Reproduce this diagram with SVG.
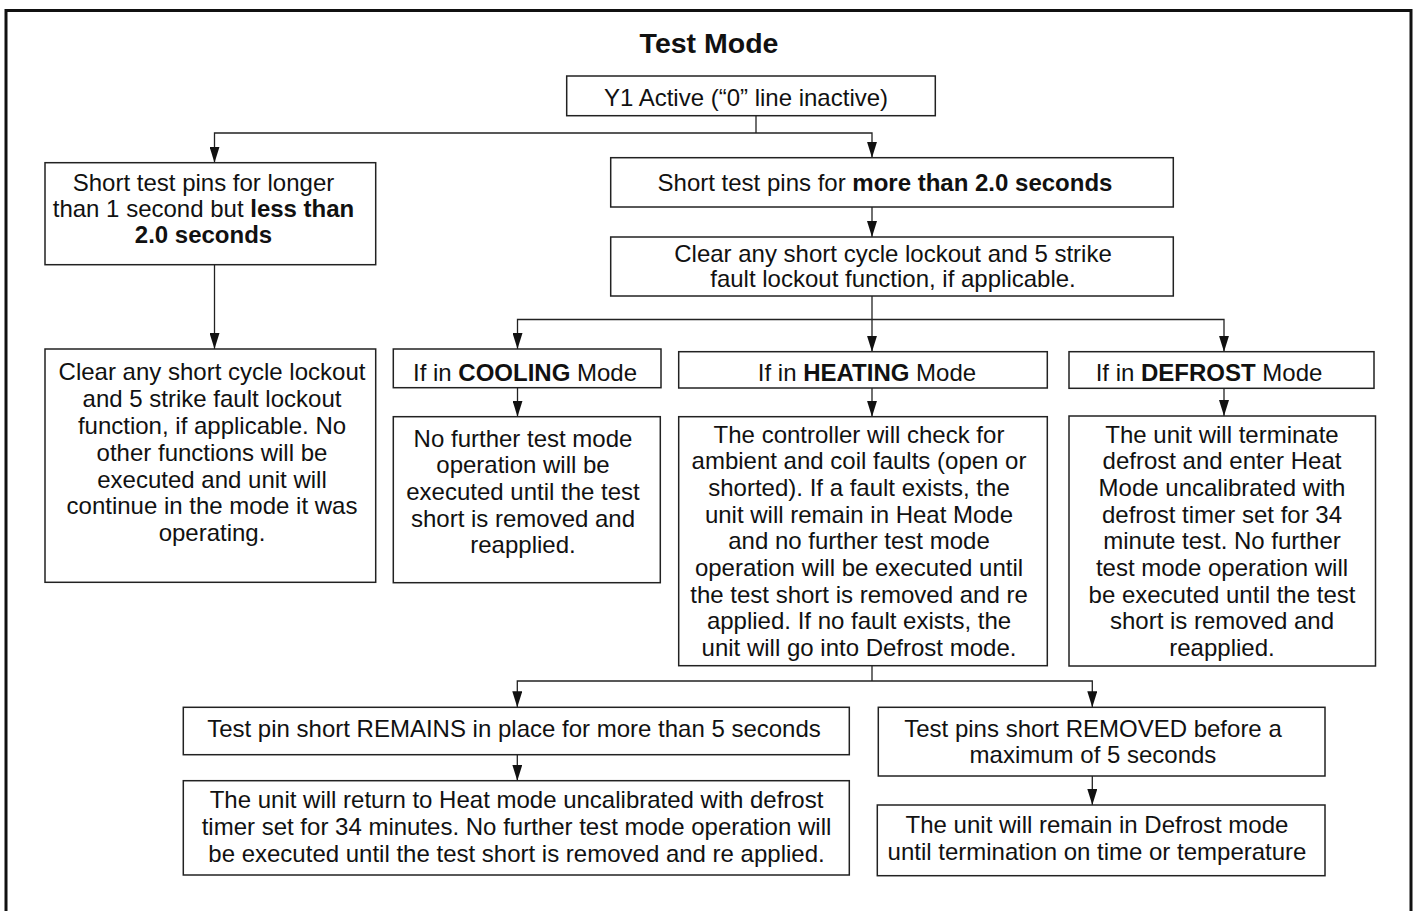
<svg xmlns="http://www.w3.org/2000/svg" width="1414" height="911" viewBox="0 0 1414 911">
<style>
.box{fill:#fff;stroke:#222;stroke-width:1.5}
.t{font-family:"Liberation Sans",Arial,sans-serif;font-size:24px;fill:#111;text-anchor:middle}
.b{font-weight:bold}
.c{fill:none;stroke:#222;stroke-width:1.3}
</style>
<defs>
<marker id="ah" viewBox="0 0 16 10" refX="16" refY="5" markerWidth="16" markerHeight="10" markerUnits="userSpaceOnUse" orient="auto">
<path d="M0,0 L16,5 L0,10 z" fill="#111"/>
</marker>
</defs>
<rect x="0" y="0" width="1414" height="911" fill="#fff"/>
<rect x="6" y="10.5" width="1405" height="920" fill="none" stroke="#111" stroke-width="3"/>
<text x="709" y="53" style="font-family:'Liberation Sans',Arial,sans-serif;font-size:28.5px;font-weight:bold;fill:#111;text-anchor:middle">Test Mode</text>

<g id="connectors">
<path class="c" d="M756,116 V133"/>
<path class="c" d="M756,133 H214.5 V162.7" marker-end="url(#ah)"/>
<path class="c" d="M756,133 H872 V157.7" marker-end="url(#ah)"/>
<path class="c" d="M214.5,264.7 V349" marker-end="url(#ah)"/>
<path class="c" d="M872,207 V237" marker-end="url(#ah)"/>
<path class="c" d="M872,296 V319.5"/>
<path class="c" d="M872,319.5 H517.5 V349" marker-end="url(#ah)"/>
<path class="c" d="M872,319.5 V351.7" marker-end="url(#ah)"/>
<path class="c" d="M872,319.5 H1224 V351.7" marker-end="url(#ah)"/>
<path class="c" d="M517.5,387.7 V416.7" marker-end="url(#ah)"/>
<path class="c" d="M872,388 V416.7" marker-end="url(#ah)"/>
<path class="c" d="M1224,388.3 V416" marker-end="url(#ah)"/>
<path class="c" d="M872,665.7 V681"/>
<path class="c" d="M872,681 H517.3 V707.3" marker-end="url(#ah)"/>
<path class="c" d="M872,681 H1092.3 V707.3" marker-end="url(#ah)"/>
<path class="c" d="M517.3,754.7 V780.7" marker-end="url(#ah)"/>
<path class="c" d="M1092.3,776 V805" marker-end="url(#ah)"/>
</g>

<g id="y1">
<rect class="box" x="566.7" y="76" width="368.6" height="39.7"/>
<text class="t" x="746" y="106">Y1 Active (“0” line inactive)</text>
</g>

<g id="short-less">
<rect class="box" x="45" y="162.7" width="330.7" height="102"/>
<text class="t" x="203.5" y="190.7">Short test pins for longer</text>
<text class="t" x="203.5" y="216.7">than 1 second but <tspan class="b">less than</tspan></text>
<text class="t b" x="203.5" y="242.5">2.0 seconds</text>
</g>

<g id="clear-left">
<rect class="box" x="45" y="349" width="330.7" height="233.3"/>
<text class="t" x="212" y="380">Clear any short cycle lockout</text>
<text class="t" x="212" y="407">and 5 strike fault lockout</text>
<text class="t" x="212" y="434">function, if applicable. No</text>
<text class="t" x="212" y="461">other functions will be</text>
<text class="t" x="212" y="487.7">executed and unit will</text>
<text class="t" x="212" y="514.3">continue in the mode it was</text>
<text class="t" x="212" y="541">operating.</text>
</g>

<g id="short-more">
<rect class="box" x="610.7" y="157.7" width="562.6" height="49.3"/>
<text class="t" x="885" y="190.7">Short test pins for <tspan class="b">more than 2.0 seconds</tspan></text>
</g>

<g id="clear-right">
<rect class="box" x="610.7" y="237" width="562.6" height="59"/>
<text class="t" x="893" y="261.7">Clear any short cycle lockout and 5 strike</text>
<text class="t" x="893" y="287.3">fault lockout function, if applicable.</text>
</g>

<g id="cooling">
<rect class="box" x="393.3" y="349" width="267.7" height="38.7"/>
<text class="t" x="525" y="380.7">If in <tspan class="b">COOLING</tspan> Mode</text>
</g>

<g id="cooling-desc">
<rect class="box" x="393.3" y="416.7" width="267" height="166"/>
<text class="t" x="523" y="446.7">No further test mode</text>
<text class="t" x="523" y="473.3">operation will be</text>
<text class="t" x="523" y="500">executed until the test</text>
<text class="t" x="523" y="526.7">short is removed and</text>
<text class="t" x="523" y="552.7">reapplied.</text>
</g>

<g id="heating">
<rect class="box" x="678.7" y="351.7" width="368.6" height="36.3"/>
<text class="t" x="867" y="380.7">If in <tspan class="b">HEATING</tspan> Mode</text>
</g>

<g id="heating-desc">
<rect class="box" x="678.7" y="416.7" width="368.6" height="249"/>
<text class="t" x="859" y="442.7">The controller will check for</text>
<text class="t" x="859" y="469.3">ambient and coil faults (open or</text>
<text class="t" x="859" y="496">shorted). If a fault exists, the</text>
<text class="t" x="859" y="522.7">unit will remain in Heat Mode</text>
<text class="t" x="859" y="549.4">and no further test mode</text>
<text class="t" x="859" y="576">operation will be executed until</text>
<text class="t" x="859" y="602.7">the test short is removed and re</text>
<text class="t" x="859" y="629.4">applied. If no fault exists, the</text>
<text class="t" x="859" y="656">unit will go into Defrost mode.</text>
</g>

<g id="defrost">
<rect class="box" x="1069" y="351.7" width="305" height="36.6"/>
<text class="t" x="1209" y="381">If in <tspan class="b">DEFROST</tspan> Mode</text>
</g>

<g id="defrost-desc">
<rect class="box" x="1069" y="416" width="306.5" height="250"/>
<text class="t" x="1222" y="442.7">The unit will terminate</text>
<text class="t" x="1222" y="469.3">defrost and enter Heat</text>
<text class="t" x="1222" y="496">Mode uncalibrated with</text>
<text class="t" x="1222" y="522.7">defrost timer set for 34</text>
<text class="t" x="1222" y="549.4">minute test. No further</text>
<text class="t" x="1222" y="576">test mode operation will</text>
<text class="t" x="1222" y="602.7">be executed until the test</text>
<text class="t" x="1222" y="629.4">short is removed and</text>
<text class="t" x="1222" y="656">reapplied.</text>
</g>

<g id="remains">
<rect class="box" x="183.3" y="707.3" width="666" height="47.4"/>
<text class="t" x="514" y="737.3">Test pin short REMAINS in place for more than 5 seconds</text>
</g>

<g id="remains-desc">
<rect class="box" x="183.3" y="780.7" width="666" height="94.3"/>
<text class="t" x="516.5" y="808.3">The unit will return to Heat mode uncalibrated with defrost</text>
<text class="t" x="516.5" y="835">timer set for 34 minutes. No further test mode operation will</text>
<text class="t" x="516.5" y="862.3">be executed until the test short is removed and re applied.</text>
</g>

<g id="removed">
<rect class="box" x="878.3" y="707.3" width="446.7" height="68.7"/>
<text class="t" x="1093" y="736.7">Test pins short REMOVED before a</text>
<text class="t" x="1093" y="762.7">maximum of 5 seconds</text>
</g>

<g id="removed-desc">
<rect class="box" x="877.3" y="805" width="447.7" height="70.7"/>
<text class="t" x="1097" y="833.3">The unit will remain in Defrost mode</text>
<text class="t" x="1097" y="860">until termination on time or temperature</text>
</g>
</svg>
